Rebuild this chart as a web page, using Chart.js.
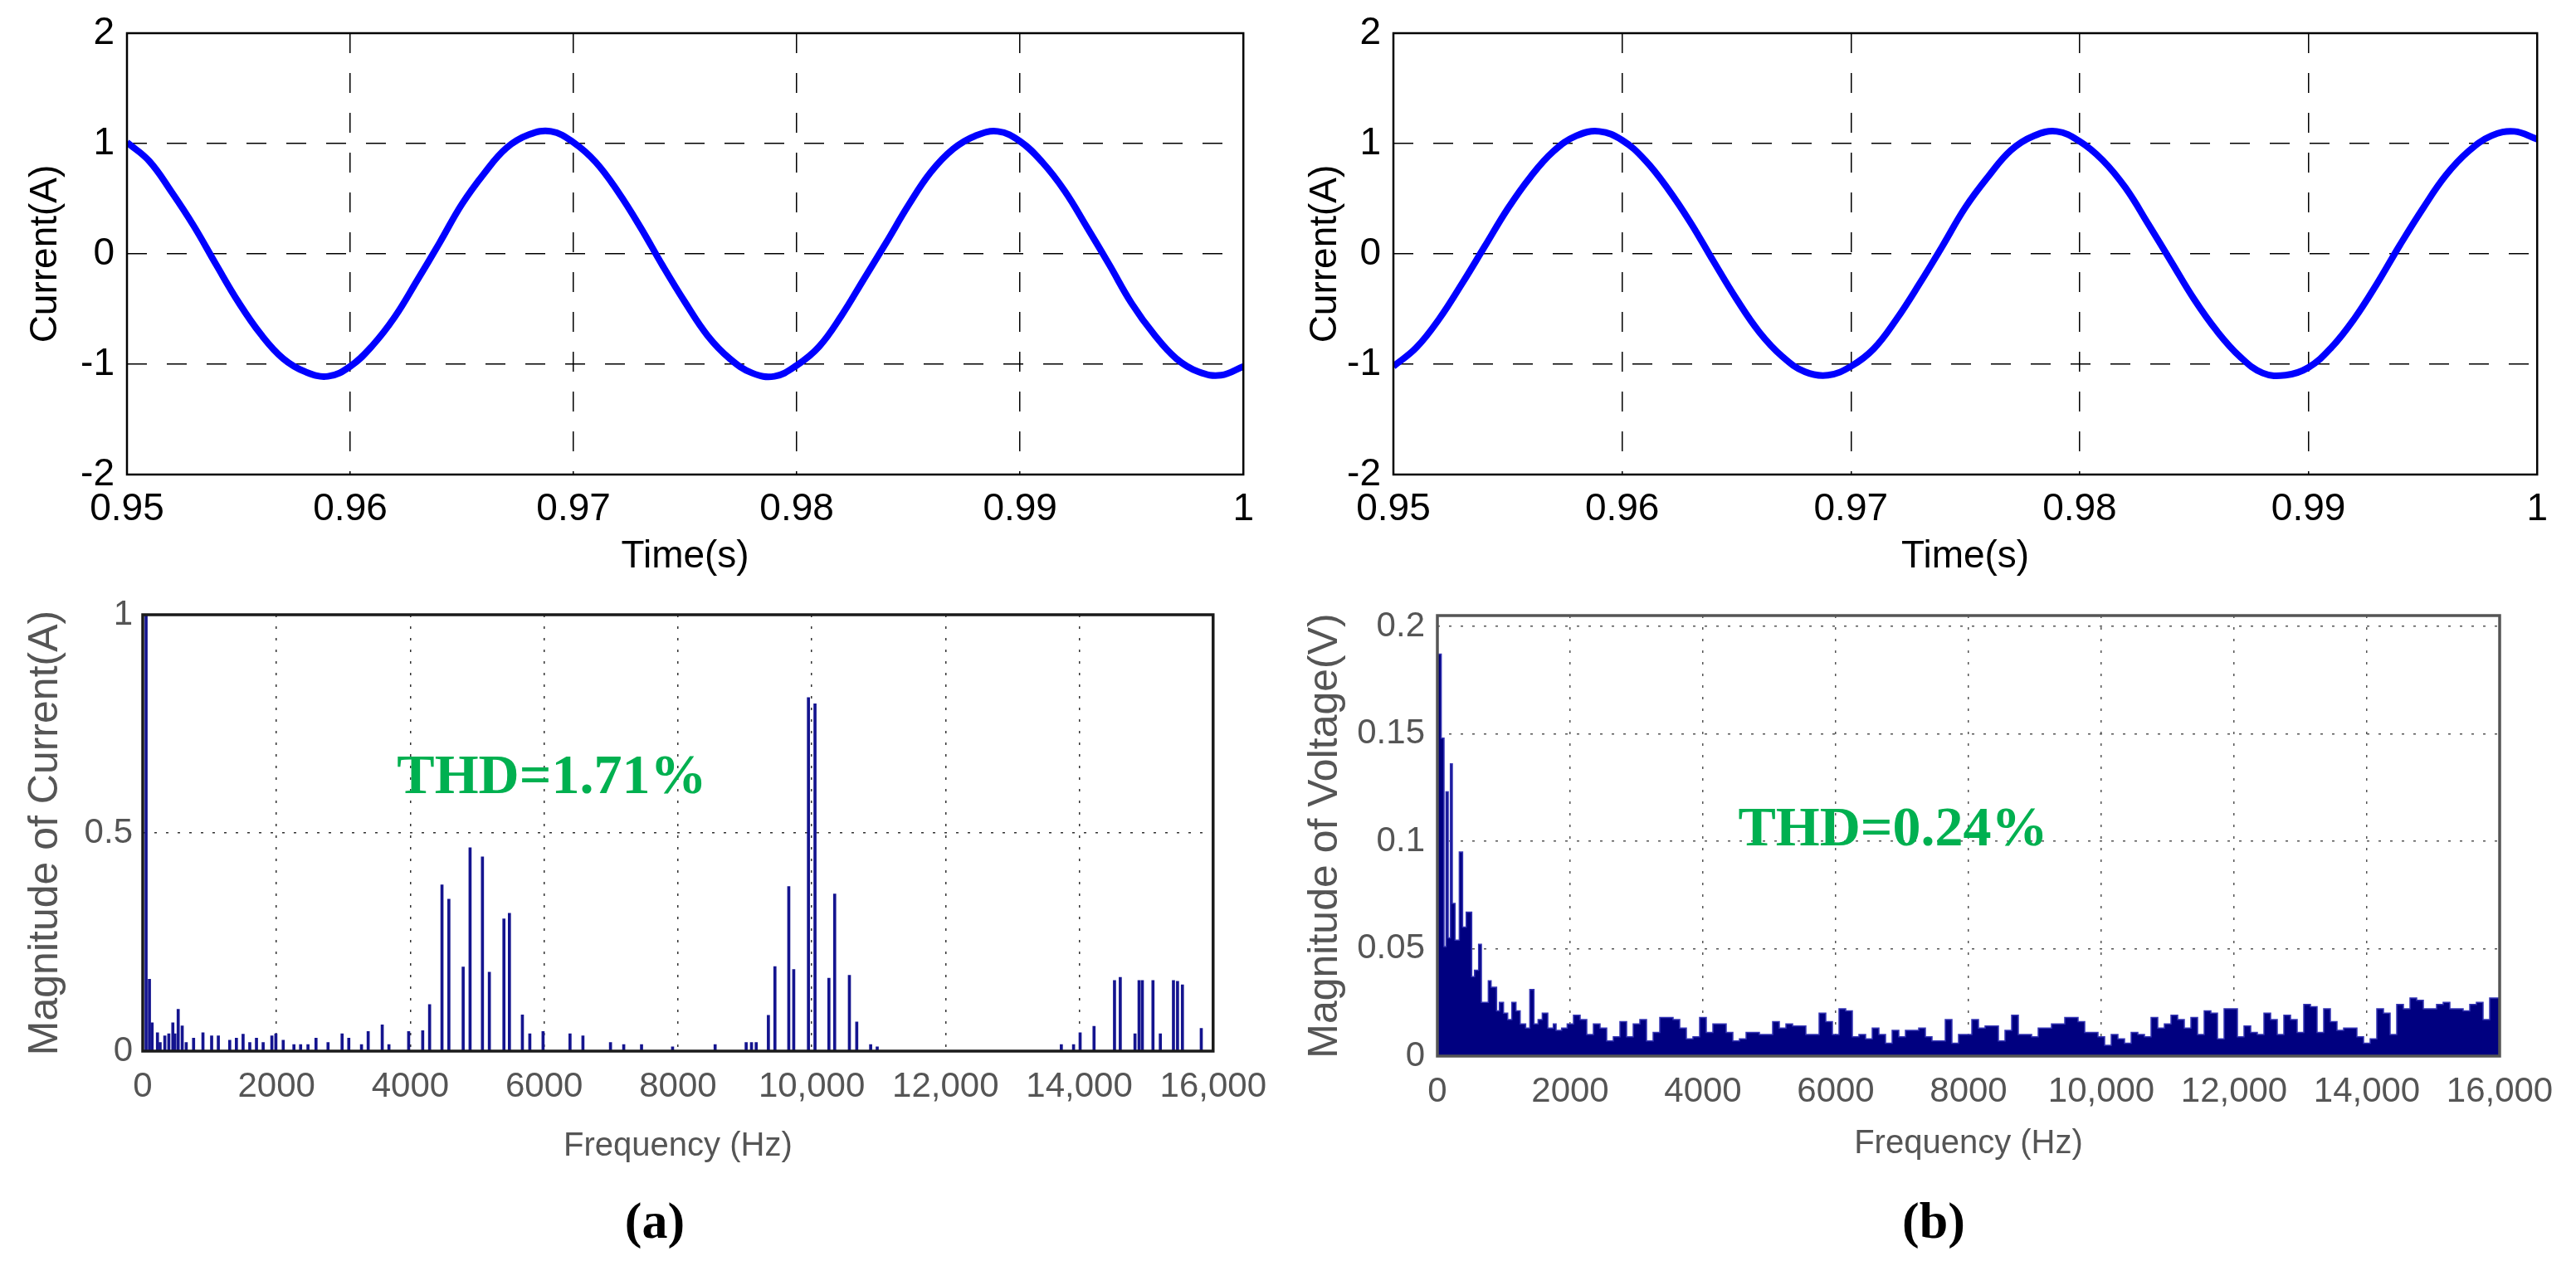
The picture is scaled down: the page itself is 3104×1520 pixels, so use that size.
<!DOCTYPE html>
<html>
<head>
<meta charset="utf-8">
<script src="https://cdn.jsdelivr.net/npm/chart.js@4.4.1/dist/chart.umd.min.js"></script>
<style>
  html, body { margin: 0; padding: 0; background: #fff; }
  body { width: 3104px; height: 1520px; position: relative; overflow: hidden; }
  canvas { position: absolute; }
  .tag { position: absolute; font: bold 62px "Liberation Serif", "Times New Roman", serif; color: #000; transform: translate(-50%, -50%); }
</style>
</head>
<body>
<canvas id="curA" width="1530" height="720" style="left:0;top:0"></canvas>
<canvas id="curB" width="1539" height="720" style="left:1550px;top:0"></canvas>
<canvas id="fftA" width="1548" height="720" style="left:0;top:700px"></canvas>
<canvas id="fftB" width="1554" height="720" style="left:1550px;top:700px"></canvas>
<div class="tag" style="left:789px;top:1471px">(a)</div>
<div class="tag" style="left:2330px;top:1471px">(b)</div>
<script>
// time grid of the current traces: one sample per millisecond
const timeStart = 0.95;
const timeStep = 0.001;

// grid current, panel (a)
const currentA = [
  1.01, 0.84, 0.56, 0.25, -0.10, -0.44, -0.73, -0.95, -1.07, -1.11,
  -1.02, -0.83, -0.57, -0.24, 0.10, 0.45, 0.73, 0.96, 1.08, 1.11,
  1.01, 0.83, 0.56, 0.24, -0.11, -0.44, -0.74, -0.95, -1.08, -1.11,
  -1.01, -0.84, -0.56, -0.23, 0.10, 0.44, 0.74, 0.95, 1.07, 1.11,
  1.02, 0.83, 0.57, 0.24, -0.10, -0.45, -0.73, -0.95, -1.07, -1.10,
  -1.02
];

// grid current, panel (b)
const currentB = [
  -1.02, -0.85, -0.59, -0.27, 0.07, 0.41, 0.70, 0.93, 1.07, 1.11,
  1.03, 0.85, 0.59, 0.28, -0.07, -0.41, -0.71, -0.93, -1.07, -1.10,
  -1.02, -0.86, -0.59, -0.27, 0.07, 0.42, 0.70, 0.94, 1.07, 1.11,
  1.02, 0.85, 0.60, 0.27, -0.07, -0.41, -0.70, -0.93, -1.08, -1.10,
  -1.03, -0.85, -0.59, -0.27, 0.08, 0.41, 0.71, 0.93, 1.07, 1.11,
  1.04
];

const timeTicks = [0.95, 0.96, 0.97, 0.98, 0.99, 1];
const currentTicks = [-2, -1, 0, 1, 2];

// current spectrum (a): harmonic lines
const harmFreqA = [
  50, 100, 140, 220, 260, 330, 390, 450, 480, 530, 590, 650, 760, 900, 1030, 1130,
  1300, 1400, 1500, 1600, 1700, 1800, 1930, 1990, 2100, 2260, 2360, 2470, 2590, 2770,
  2980, 3080, 3270, 3370, 3580, 3680, 3975, 4185, 4288, 4473, 4576, 4790, 4893, 5078,
  5181, 5399, 5481, 5675, 5786, 5984, 6387, 6580, 6992, 7190, 7456, 7920, 8556, 9020,
  9100, 9170, 9352, 9450, 9657, 9731, 9951, 10049, 10257, 10343, 10563, 10673, 10881,
  10979, 13731, 13914, 14012, 14220, 14526, 14612, 14832, 14893, 14942, 15101, 15211,
  15407, 15468, 15541, 15823
];
const harmMagA = [
  1.0, 0.165, 0.065, 0.042, 0.02, 0.035, 0.04, 0.065, 0.04, 0.096, 0.058, 0.02, 0.03, 0.042, 0.035, 0.035,
  0.025, 0.03, 0.039, 0.02, 0.03, 0.02, 0.035, 0.04, 0.025, 0.015, 0.015, 0.015, 0.03, 0.02,
  0.04, 0.03, 0.015, 0.045, 0.06, 0.015, 0.045, 0.047, 0.107, 0.381, 0.348, 0.193, 0.466, 0.445,
  0.181, 0.303, 0.316, 0.083, 0.04, 0.045, 0.04, 0.035, 0.02, 0.015, 0.015, 0.01, 0.015, 0.02,
  0.02, 0.02, 0.082, 0.194, 0.377, 0.187, 0.81, 0.796, 0.167, 0.36, 0.174, 0.067, 0.015,
  0.01, 0.015, 0.015, 0.042, 0.057, 0.162, 0.169, 0.04, 0.162, 0.162, 0.162, 0.04,
  0.162, 0.16, 0.152, 0.052
];

const freqTicks = [0, 2000, 4000, 6000, 8000, 10000, 12000, 14000, 16000];
const freqTickLabels = ['0', '2000', '4000', '6000', '8000', '10,000', '12,000', '14,000', '16,000'];
const magTicksA = [0, 0.5, 1];
const magTicksB = [0, 0.05, 0.1, 0.15, 0.2];

// voltage spectrum (b): low band, bin left edges (Hz) and magnitudes
const lowFreqB = [
  0, 58, 100, 130, 163, 196, 225, 267, 330, 380, 434, 517, 559, 621, 663, 767, 809,
  892, 934, 996, 1059, 1121, 1184, 1247, 1330, 1392, 1455, 1517, 1580, 1663, 1746,
  1788, 1871, 1955
];
const lowMagB = [
  0.203, 0.187, 0.148, 0.051, 0.123, 0.055, 0.136, 0.071, 0.054, 0.095, 0.06, 0.067,
  0.037, 0.04, 0.052, 0.025, 0.035, 0.032, 0.021, 0.025, 0.02, 0.017, 0.025, 0.021,
  0.015, 0.013, 0.031, 0.015, 0.017, 0.02, 0.013, 0.015, 0.012, 0.013
];
// voltage spectrum (b): 100 Hz bins from 2050 Hz up to 16,000 Hz
const binStartB = 2050;
const binWidthB = 100;
const binMagB = [
  0.015, 0.019, 0.017, 0.010, 0.015, 0.013, 0.007, 0.009, 0.016, 0.009, 0.015, 0.017, 0.007,
  0.011, 0.018, 0.018, 0.017, 0.013, 0.008, 0.009, 0.018, 0.011, 0.015,
  0.015, 0.011, 0.007, 0.008, 0.011, 0.011, 0.010, 0.010, 0.016, 0.013,
  0.015, 0.014, 0.014, 0.010, 0.010, 0.020, 0.016, 0.010, 0.022, 0.021,
  0.009, 0.010, 0.008, 0.013, 0.010, 0.006, 0.012, 0.009, 0.012, 0.012,
  0.013, 0.009, 0.007, 0.007, 0.017, 0.006, 0.010, 0.010, 0.017, 0.013,
  0.014, 0.014, 0.007, 0.012, 0.019, 0.010, 0.010, 0.009, 0.013, 0.013,
  0.015, 0.015, 0.018, 0.018,
  0.016, 0.011, 0.011, 0.009, 0.005, 0.010, 0.008, 0.006, 0.011, 0.010,
  0.009, 0.018, 0.013, 0.015, 0.019, 0.017, 0.013, 0.018, 0.010, 0.021,
  0.020, 0.008, 0.022, 0.022, 0.009, 0.014, 0.011, 0.010, 0.020, 0.017,
  0.010, 0.019, 0.017, 0.011, 0.024, 0.023, 0.011, 0.022, 0.016, 0.012,
  0.013, 0.013, 0.009, 0.006, 0.008, 0.022, 0.020, 0.010, 0.024, 0.022,
  0.027, 0.026, 0.022, 0.022, 0.024, 0.025, 0.022, 0.022, 0.021, 0.024,
  0.025, 0.017, 0.027
];

const thdA = { text: 'THD=1.71%', at: [3800, 0.624] };
const thdB = { text: 'THD=0.24%', at: [4530, 0.105] };

Chart.defaults.font.family = '"Liberation Sans", Arial, sans-serif';
Chart.defaults.animation = false;

// box around the plot area, like matlab's "box on"
const framePlugin = {
  id: 'frame',
  afterDatasetsDraw(chart, args, opts) {
    const { ctx, chartArea: a } = chart;
    ctx.save();
    ctx.strokeStyle = opts.color;
    ctx.lineWidth = opts.width;
    ctx.strokeRect(a.left, a.top, a.right - a.left, a.bottom - a.top);
    ctx.restore();
  }
};

const thdPlugin = {
  id: 'thd',
  afterDatasetsDraw(chart, args, opts) {
    if (!opts.text) return;
    const { ctx, scales } = chart;
    ctx.save();
    ctx.font = 'bold 68px "Liberation Serif", "Times New Roman", serif';
    ctx.fillStyle = '#00b050';
    ctx.textAlign = 'left';
    ctx.textBaseline = 'middle';
    ctx.fillText(opts.text, scales.x.getPixelForValue(opts.at[0]), scales.y.getPixelForValue(opts.at[1]));
    ctx.restore();
  }
};

function currentChart(id, values, yWidth, yTitlePad, rightPad) {
  const points = values.map((v, i) => ({ x: timeStart + i * timeStep, y: v }));
  return new Chart(document.getElementById(id), {
    type: 'line',
    data: {
      datasets: [{
        data: points,
        borderColor: '#0000ff',
        borderWidth: 8,
        pointRadius: 0,
        tension: 0.4
      }]
    },
    plugins: [framePlugin],
    options: {
      responsive: false,
      devicePixelRatio: 1,
      layout: { padding: { top: 40, right: rightPad, left: 0, bottom: 0 } },
      plugins: {
        legend: { display: false },
        tooltip: { enabled: false },
        frame: { color: '#000', width: 2.5 }
      },
      scales: {
        x: {
          type: 'linear',
          min: 0.95,
          max: 1,
          afterBuildTicks: s => { s.ticks = timeTicks.map(v => ({ value: v })); },
          afterFit: s => { s.height = 148; },
          grid: { color: '#000', lineWidth: 1.5, drawTicks: false },
          border: { display: false, dash: [24, 24] },
          ticks: {
            color: '#000',
            font: { size: 46, lineHeight: 1 },
            padding: 19,
            maxRotation: 0,
            callback: v => String(+v.toFixed(2))
          },
          title: {
            display: true,
            text: 'Time(s)',
            color: '#000',
            font: { size: 46, lineHeight: 1 },
            padding: { top: 0, bottom: 26 }
          }
        },
        y: {
          min: -2,
          max: 2,
          afterBuildTicks: s => { s.ticks = currentTicks.map(v => ({ value: v })); },
          afterFit: s => { s.width = yWidth; },
          grid: { color: '#000', lineWidth: 1.5, drawTicks: false },
          border: { display: false, dash: [24, 24] },
          ticks: {
            color: '#000',
            font: { size: 46, lineHeight: 1 },
            padding: 15,
            callback: v => String(v)
          },
          title: {
            display: true,
            text: 'Current(A)',
            color: '#000',
            font: { size: 46, lineHeight: 1 },
            padding: { top: yTitlePad, bottom: 0 }
          }
        }
      }
    }
  });
}

currentChart('curA', currentA, 153, 32, 18);
currentChart('curB', currentB, 129, 24, 30);

function freqAxis(titlePad, gridColor) {
  return {
    type: 'linear',
    min: 0,
    max: 16000,
    offset: false,
    afterBuildTicks: s => { s.ticks = freqTicks.map(v => ({ value: v })); },
    grid: { color: gridColor, lineWidth: 1.5, drawTicks: false, offset: false },
    border: { display: false, dash: [3, 11] },
    ticks: {
      color: '#555',
      font: { size: 42, lineHeight: 1 },
      padding: 22,
      maxRotation: 0,
      autoSkip: false,
      callback: (v, i) => freqTickLabels[i]
    },
    title: {
      display: true,
      text: 'Frequency (Hz)',
      color: '#555',
      font: { size: 40, lineHeight: 1 },
      padding: { top: 0, bottom: titlePad }
    }
  };
}

function magAxis(max, ticks, titleText, titlePad, tickPad, gridColor) {
  return {
    min: 0,
    max: max,
    afterBuildTicks: s => { s.ticks = ticks.map(v => ({ value: v })); },
    grid: { color: gridColor, lineWidth: 1.5, drawTicks: false },
    border: { display: false, dash: [3, 11] },
    ticks: {
      color: '#555',
      font: { size: 42, lineHeight: 1 },
      padding: tickPad,
      callback: v => String(v)
    },
    title: {
      display: true,
      text: titleText,
      color: '#555',
      font: { size: 50, lineHeight: 1 },
      padding: { top: titlePad, bottom: 0 }
    }
  };
}

// spectrum (a)
const xA = freqAxis(18, '#333');
xA.afterFit = s => { s.height = 153; };
const yA = magAxis(1, magTicksA, 'Magnitude of Current(A)', 30, 12, '#333');
yA.afterFit = s => { s.width = 172; };

new Chart(document.getElementById('fftA'), {
  type: 'bar',
  data: {
    datasets: [{
      data: harmFreqA.map((f, i) => ({ x: f, y: harmMagA[i] })),
      backgroundColor: '#14148f',
      borderWidth: 0,
      barThickness: 3
    }]
  },
  plugins: [framePlugin, thdPlugin],
  options: {
    responsive: false,
    devicePixelRatio: 1,
    layout: { padding: { top: 41, right: 80, left: 0, bottom: 0 } },
    plugins: {
      legend: { display: false },
      tooltip: { enabled: false },
      frame: { color: '#1a1a1a', width: 3.5 },
      thd: thdA
    },
    scales: { x: xA, y: yA }
  }
});

// spectrum (b): stepped fill built from the low band and the 100 Hz bins
const specB = lowFreqB.map((f, i) => ({ x: f, y: lowMagB[i] }));
binMagB.forEach((m, i) => specB.push({ x: binStartB + i * binWidthB, y: m }));
specB.push({ x: 16000, y: binMagB[binMagB.length - 1] });

const xB = freqAxis(21, '#555');
xB.afterFit = s => { s.height = 147; };
const yB = magAxis(0.205, magTicksB, 'Magnitude of Voltage(V)', 22, 15, '#555');
yB.afterFit = s => { s.width = 182; };

new Chart(document.getElementById('fftB'), {
  type: 'line',
  data: {
    datasets: [{
      data: specB,
      stepped: 'after',
      fill: 'origin',
      backgroundColor: '#000080',
      borderColor: '#3434b4',
      borderWidth: 1.5,
      pointRadius: 0
    }]
  },
  plugins: [framePlugin, thdPlugin],
  options: {
    responsive: false,
    devicePixelRatio: 1,
    layout: { padding: { top: 42, right: 92, left: 0, bottom: 0 } },
    plugins: {
      legend: { display: false },
      tooltip: { enabled: false },
      frame: { color: '#555', width: 3.5 },
      thd: thdB
    },
    scales: { x: xB, y: yB }
  }
});
</script>
</body>
</html>
